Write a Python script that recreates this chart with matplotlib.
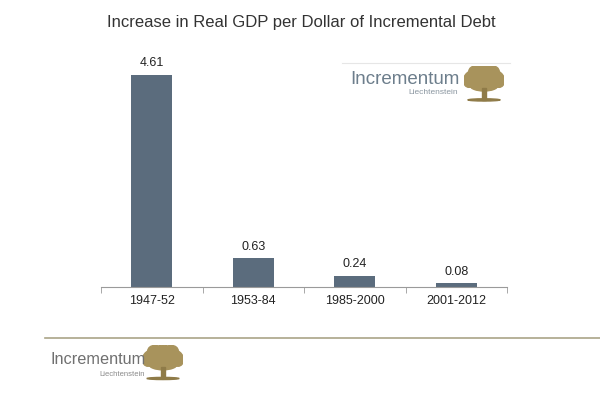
import matplotlib
matplotlib.use("Agg")
import matplotlib.pyplot as plt
from matplotlib.patches import Ellipse, Rectangle
import numpy as np

periods = ["1947-52", "1953-84", "1985-2000", "2001-2012"]
gdp_per_dollar = [4.61, 0.63, 0.24, 0.08]

plt.rcParams['font.family'] = ['Liberation Sans', 'DejaVu Sans']

W, H = 600, 393
fig = plt.figure(figsize=(6, 3.93), dpi=100)

def fx(px):
	return px / W

def fy(py):
	return 1 - py / H

# main bar axes
ax = fig.add_axes([fx(101), fy(287), fx(406), 230 / H])
x = np.arange(len(periods))
bars = ax.bar(x, gdp_per_dollar, width=0.4, color='#5b6c7d')
for b, v in zip(bars, gdp_per_dollar):
	ax.text(b.get_x() + b.get_width() / 2, v + 0.12, "%.2f" % v,
		ha='center', va='bottom', fontsize=9, color='#222222')

ax.set_xlim(-0.5, 3.5)
ax.set_ylim(0, 5)
for s in ['top', 'right', 'left']:
	ax.spines[s].set_visible(False)
ax.spines['bottom'].set_color('#9a9a9a')
ax.spines['bottom'].set_linewidth(0.8)
ax.set_yticks([])
ax.set_xticks(x)
ax.set_xticklabels(periods, fontsize=9, color='#222222')
ax.tick_params(axis='x', which='major', length=0, pad=6)
ax.set_xticks(np.arange(-0.5, 4, 1), minor=True)
ax.tick_params(axis='x', which='minor', length=4, color='#9a9a9a', direction='out')

fig.text(0.503, fy(23), "Increase in Real GDP per Dollar of Incremental Debt",
	ha='center', va='center', fontsize=12, color='#333333')

def tree(cx, cy, w, h):
	# rough oak-like logo drawn from patches
	gold = '#a8935c'
	t = fig.add_axes([fx(cx - w / 2), fy(cy + h / 2), fx(w), h / H])
	t.set_xlim(0, 1)
	t.set_ylim(0, 1)
	t.axis('off')
	t.add_patch(Ellipse((0.5, 0.64), 1.0, 0.6, color=gold))
	for ex, ey, ew, eh in [(0.12, 0.58, 0.26, 0.34), (0.88, 0.58, 0.26, 0.34),
			(0.3, 0.84, 0.36, 0.3), (0.7, 0.84, 0.36, 0.3), (0.5, 0.9, 0.3, 0.2),
			(0.5, 0.46, 0.7, 0.3)]:
		t.add_patch(Ellipse((ex, ey), ew, eh, color=gold))
	t.add_patch(Rectangle((0.46, 0.08), 0.08, 0.32, color='#8f7b48'))
	t.add_patch(Ellipse((0.5, 0.07), 0.8, 0.06, color='#8f7b48'))

# logo inside the plot
fig.add_artist(plt.Line2D([fx(342), fx(510)], [fy(63), fy(63)], color='#e6e6e6', lw=0.8))
fig.text(fx(460), fy(79), "Incrementum", ha='right', va='center', fontsize=13.5, color='#6d7e8c')
fig.text(fx(458), fy(92), "Liechtenstein", ha='right', va='center', fontsize=6, color='#8a96a0')
tree(484, 84, 40, 37)

# footer
fig.add_artist(plt.Line2D([fx(45), fx(600)], [fy(338), fy(338)], color='#aaa487', lw=1.2))
fig.text(fx(50), fy(359), "Incrementum", ha='left', va='center', fontsize=11.7, color='#707070')
fig.text(fx(145), fy(374), "Liechtenstein", ha='right', va='center', fontsize=5.5, color='#8a8a8a')
tree(163, 363, 40, 36)

fig.savefig("out.png", dpi=100)
